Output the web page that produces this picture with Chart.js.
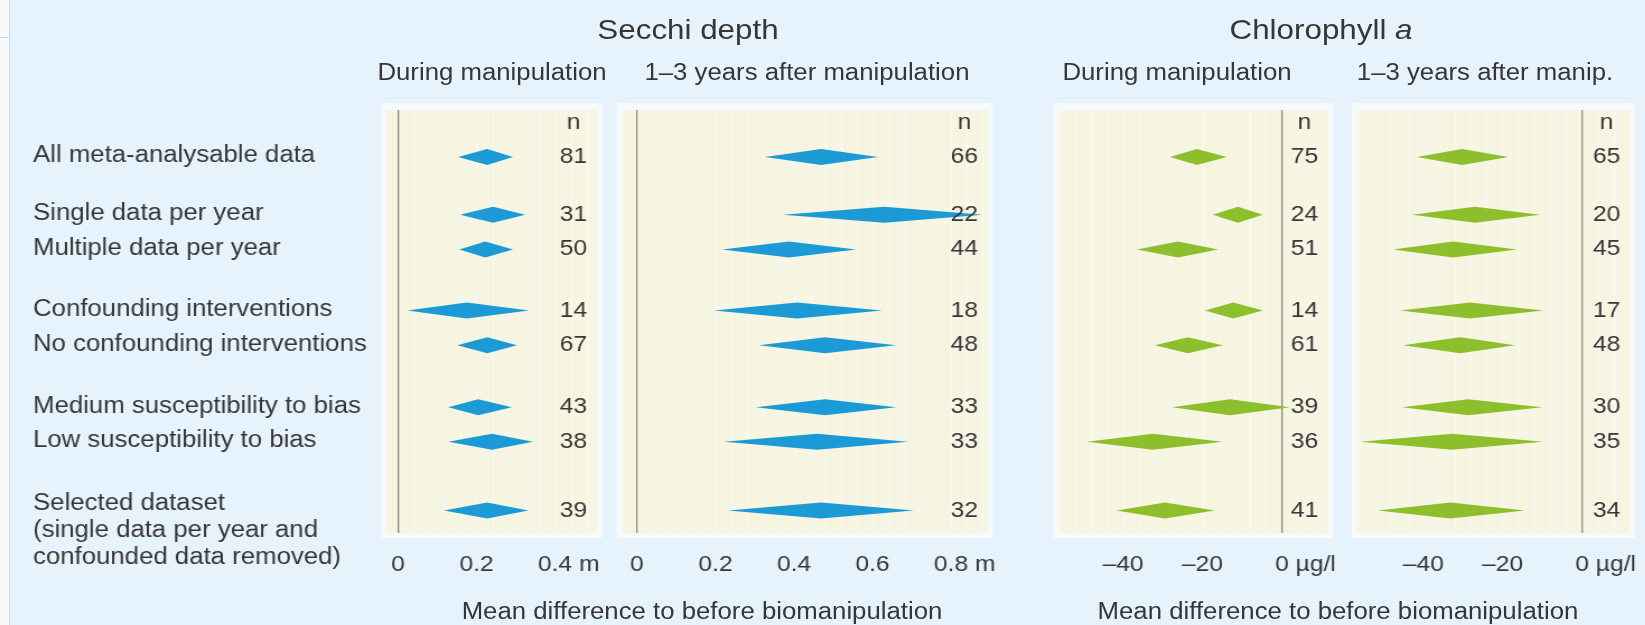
<!DOCTYPE html>
<html>
<head>
<meta charset="utf-8">
<title>Biomanipulation meta-analysis: Secchi depth and chlorophyll a</title>
<script src="https://cdn.jsdelivr.net/npm/chart.js@4.4.1/dist/chart.umd.min.js"></script>
<style>
  html, body { margin: 0; padding: 0; background: #e7f3fc; }
  #page { position: relative; width: 1645px; height: 625px; overflow: hidden; background: #e7f3fc; }
  #edge { position: absolute; left: 0; top: 0; width: 9px; height: 625px; background: #f6fafd; border-right: 1px solid #c6dcee; }
  #edgeTop { position: absolute; left: 0; top: 37px; width: 9px; height: 1px; background: #c6dcee; }
  /* the figure is laid out on a 1469px grid and widened to the page */
  #stage { position: absolute; left: 0; top: 0; width: 1469px; height: 625px; transform: scaleX(1.12); transform-origin: 0 0; }
  #stage canvas { position: absolute; left: 0; top: 0; width: 1469px; height: 625px; }
  .t { position: absolute; white-space: nowrap; text-align: center; color: #363636;
       font-family: 'Liberation Sans', Arial, Helvetica, sans-serif; }
  .h1 { font-size: 28px; line-height: 28px; top: 16px; width: 600px; }
  .h2 { font-size: 23px; line-height: 23px; top: 60.5px; width: 400px; }
  .cap { font-size: 23px; line-height: 23px; top: 599.5px; width: 700px; }
</style>
</head>
<body>
<div id="page">
  <div id="edge"></div>
  <div id="edgeTop"></div>
  <div id="stage">
    <canvas id="secchiDuring" width="1469" height="625"></canvas>
    <canvas id="secchiAfter" width="1469" height="625"></canvas>
    <canvas id="chlDuring" width="1469" height="625"></canvas>
    <canvas id="chlAfter" width="1469" height="625"></canvas>

    <div class="t h1" style="left:314.3px;">Secchi depth</div>
    <div class="t h1" style="left:879.5px;">Chlorophyll <i>a</i></div>

    <div class="t h2" style="left:239.3px;">During manipulation</div>
    <div class="t h2" style="left:520.5px;">1–3 years after manipulation</div>
    <div class="t h2" style="left:850.9px;">During manipulation</div>
    <div class="t h2" style="left:1125.9px;">1–3 years after manip.</div>

    <div class="t cap" style="left:276.8px;">Mean difference to before biomanipulation</div>
    <div class="t cap" style="left:844.6px;">Mean difference to before biomanipulation</div>
  </div>
</div>

<script>
// ---- data ---------------------------------------------------------------
const rowLabels = [
  ['All meta-analysable data'],
  ['Single data per year'],
  ['Multiple data per year'],
  ['Confounding interventions'],
  ['No confounding interventions'],
  ['Medium susceptibility to bias'],
  ['Low susceptibility to bias'],
  ['Selected dataset', '(single data per year and', 'confounded data removed)']
];
// vertical slot of each row (rows grouped in pairs, header "n" sits at slot -1)
const rowSlot = [0, 1.7, 2.72, 4.52, 5.54, 7.36, 8.38, 10.4];
const headerSlot = -1;

// Secchi depth (m), during manipulation
const secchiDuringMean = [0.227, 0.242, 0.222, 0.175, 0.227, 0.204, 0.239, 0.227];
const secchiDuringLow  = [0.153, 0.158, 0.156, 0.023, 0.151, 0.128, 0.128, 0.117];
const secchiDuringHigh = [0.293, 0.324, 0.293, 0.334, 0.303, 0.290, 0.344, 0.332];
const secchiDuringN    = [81, 31, 50, 14, 67, 43, 38, 39];

// Secchi depth (m), 1-3 years after manipulation
const secchiAfterMean = [0.469, 0.630, 0.387, 0.408, 0.479, 0.479, 0.459, 0.469];
const secchiAfterLow  = [0.326, 0.372, 0.217, 0.196, 0.311, 0.303, 0.222, 0.232];
const secchiAfterHigh = [0.614, 0.880, 0.558, 0.624, 0.660, 0.660, 0.690, 0.705];
const secchiAfterN    = [66, 22, 44, 18, 48, 33, 33, 32];

// Chlorophyll a (µg/l), during manipulation
const chlDuringMean = [-21.4, -11.1, -26.2, -12.3, -23.7, -13.1, -32.5, -29.5];
const chlDuringLow  = [-28.2, -17.4, -36.5, -19.4, -32.0, -27.7, -49.1, -41.6];
const chlDuringHigh = [-13.9,  -4.8, -16.1,  -4.8, -14.9,   2.0, -14.9, -16.9];
const chlDuringN    = [75, 24, 51, 14, 61, 39, 36, 41];

// Chlorophyll a (µg/l), 1-3 years after manipulation
const chlAfterMean = [-30.2, -27.0, -32.5, -28.2, -30.7, -28.7, -32.7, -33.2];
const chlAfterLow  = [-41.6, -42.8, -47.6, -45.8, -45.1, -45.3, -55.9, -51.4];
const chlAfterHigh = [-18.6, -10.6, -16.4,  -9.8, -16.9, -10.1,  -9.8, -14.4];
const chlAfterN    = [65, 20, 45, 17, 48, 30, 35, 34];

// axis ticks
const secchiDuringTicks = [0, 0.2, 0.4];
const secchiAfterTicks  = [0, 0.2, 0.4, 0.6, 0.8];
const chlTicks          = [-40, -20, 0];

// ---- styling ------------------------------------------------------------
const STAGE_W = 1469;
const BLUE = '#1b9ad6';
const GREEN = '#8cbf2b';
const TEXT = '#363636';
const AXIS = '#8b8a7c';
const FRAME = '#f7fafc';
const PLOT = '#f6f5e2';
const STRIPE = 'rgba(255,255,255,0.45)';
const FONT = "'Liberation Sans', Arial, Helvetica, sans-serif";
const TICK_PAD = 19;

Chart.defaults.font.family = FONT;
Chart.defaults.font.size = 22;
Chart.defaults.color = TEXT;

// white frame, cream plotting field and its faint vertical ruling
const panelFrame = {
  id: 'panelFrame',
  beforeDraw(chart, args, opts) {
    const { ctx, chartArea: a } = chart;
    const xs = chart.scales.x;
    ctx.save();
    ctx.fillStyle = FRAME;
    ctx.fillRect(a.left - 4.5, a.top - 7, a.right - a.left + 9, a.bottom - a.top + 12);
    ctx.fillStyle = PLOT;
    ctx.fillRect(a.left, a.top, a.right - a.left, a.bottom - a.top);
    ctx.strokeStyle = STRIPE;
    ctx.lineWidth = 1.6;
    const step = opts.ruling;
    for (let v = Math.ceil(xs.min / step) * step; v <= xs.max; v += step) {
      const px = Math.round(xs.getPixelForValue(v)) + 0.5;
      ctx.beginPath();
      ctx.moveTo(px, a.top);
      ctx.lineTo(px, a.bottom);
      ctx.stroke();
    }
    ctx.restore();
  }
};

// each interval is drawn as a diamond: tips at the interval ends, widest at the mean
const diamondMarks = {
  id: 'diamondMarks',
  afterDatasetsDraw(chart) {
    const { ctx } = chart;
    const xs = chart.scales.x;
    chart.data.datasets.forEach((ds, di) => {
      const meta = chart.getDatasetMeta(di);
      ctx.save();
      ctx.fillStyle = ds.diamondColor;
      meta.data.forEach((bar, i) => {
        const p = bar.getProps(['x', 'y', 'base', 'height'], true);
        const mid = xs.getPixelForValue(ds.mean[i]);
        const h = p.height / 2;
        ctx.beginPath();
        ctx.moveTo(p.base, p.y);
        ctx.lineTo(mid, p.y - h);
        ctx.lineTo(p.x, p.y);
        ctx.lineTo(mid, p.y + h);
        ctx.closePath();
        ctx.fill();
      });
      ctx.restore();
    });
  }
};

// sample sizes in the right-hand column of each panel
const countColumn = {
  id: 'countColumn',
  afterDraw(chart) {
    const { ctx, chartArea: a } = chart;
    const ys = chart.scales.y;
    const ds = chart.data.datasets[0];
    const x = a.right - 21;
    ctx.save();
    ctx.font = '22px ' + FONT;
    ctx.fillStyle = TEXT;
    ctx.textAlign = 'center';
    ctx.textBaseline = 'middle';
    ctx.fillText('n', x, ys.getPixelForValue(headerSlot));
    ds.n.forEach((v, i) => ctx.fillText(String(v), x, ys.getPixelForValue(rowSlot[i])));
    ctx.restore();
  }
};

// unit written after the last tick label
const axisUnit = {
  id: 'axisUnit',
  afterDraw(chart, args, opts) {
    const { ctx } = chart;
    const xs = chart.scales.x;
    const last = xs.ticks[xs.ticks.length - 1];
    ctx.save();
    ctx.font = '22px ' + FONT;
    ctx.fillStyle = TEXT;
    ctx.textBaseline = 'middle';
    ctx.textAlign = 'left';
    const label = fmtTick(last.value);
    const px = xs.getPixelForValue(last.value);
    const x = px + ctx.measureText(label).width / 2 + ctx.measureText(' ').width;
    ctx.fillText(opts.unit, x, xs.top + TICK_PAD + 22 * 1.2 / 2);
    ctx.restore();
  }
};

// category names to the left of the first panel
const rowLabelColumn = {
  id: 'rowLabelColumn',
  afterDraw(chart) {
    const { ctx } = chart;
    const ys = chart.scales.y;
    ctx.save();
    ctx.font = '23px ' + FONT;
    ctx.fillStyle = TEXT;
    ctx.textAlign = 'left';
    ctx.textBaseline = 'middle';
    rowLabels.forEach((lines, i) => {
      const py = ys.getPixelForValue(rowSlot[i]);
      const y0 = lines.length > 1 ? py - 7 : py - 1;
      lines.forEach((line, k) => ctx.fillText(line, 29.5, y0 + k * 27));
    });
    ctx.restore();
  }
};

function fmtTick(v) {
  return v < 0 ? '–' + Math.abs(v) : String(v);
}

function makePanel(id, cfg) {
  const plugins = [panelFrame, diamondMarks, countColumn, axisUnit];
  if (cfg.withLabels) plugins.push(rowLabelColumn);
  return new Chart(document.getElementById(id), {
    type: 'bar',
    data: {
      datasets: [{
        data: rowSlot.map((s, i) => ({ y: s, x: [cfg.low[i], cfg.high[i]] })),
        backgroundColor: 'rgba(0,0,0,0)',
        borderWidth: 0,
        barThickness: 16,
        mean: cfg.mean,
        n: cfg.n,
        diamondColor: cfg.color
      }]
    },
    options: {
      indexAxis: 'y',
      responsive: false,
      animation: false,
      events: [],
      layout: { padding: { left: cfg.left, right: STAGE_W - cfg.right, top: 110, bottom: 32 } },
      plugins: {
        legend: { display: false },
        tooltip: { enabled: false },
        axisUnit: { unit: cfg.unit },
        panelFrame: { ruling: cfg.ruling }
      },
      scales: {
        x: {
          type: 'linear',
          min: cfg.min,
          max: cfg.max,
          afterBuildTicks: s => { s.ticks = cfg.ticks.map(v => ({ value: v })); },
          afterFit: s => { s.height = 60; },
          border: { display: false },
          grid: {
            drawTicks: false,
            lineWidth: 1.3,
            color: c => (c.tick && c.tick.value === 0 ? AXIS : 'rgba(0,0,0,0)')
          },
          ticks: {
            padding: TICK_PAD,
            autoSkip: false,
            maxRotation: 0,
            color: TEXT,
            font: { size: 22 },
            callback: v => fmtTick(v)
          }
        },
        y: {
          type: 'linear',
          reverse: true,
          offset: false,
          grid: { offset: false },
          min: -1.38,
          max: 11.06,
          display: false
        }
      }
    },
    plugins
  });
}

makePanel('secchiDuring', {
  mean: secchiDuringMean, low: secchiDuringLow, high: secchiDuringHigh, n: secchiDuringN,
  ticks: secchiDuringTicks, unit: 'm', color: BLUE, ruling: 0.04,
  left: 344.6, right: 533.0, min: -0.031, max: 0.507, withLabels: true
});
makePanel('secchiAfter', {
  mean: secchiAfterMean, low: secchiAfterLow, high: secchiAfterHigh, n: secchiAfterN,
  ticks: secchiAfterTicks, unit: 'm', color: BLUE, ruling: 0.04,
  left: 555.4, right: 882.1, min: -0.038, max: 0.894
});
makePanel('chlDuring', {
  mean: chlDuringMean, low: chlDuringLow, high: chlDuringHigh, n: chlDuringN,
  ticks: chlTicks, unit: 'µg/l', color: GREEN, ruling: 4,
  left: 944.6, right: 1185.7, min: -56.4, max: 11.6
});
makePanel('chlAfter', {
  mean: chlAfterMean, low: chlAfterLow, high: chlAfterHigh, n: chlAfterN,
  ticks: chlTicks, unit: 'µg/l', color: GREEN, ruling: 4,
  left: 1211.6, right: 1455.4, min: -56.7, max: 12.1
});
</script>
</body>
</html>
